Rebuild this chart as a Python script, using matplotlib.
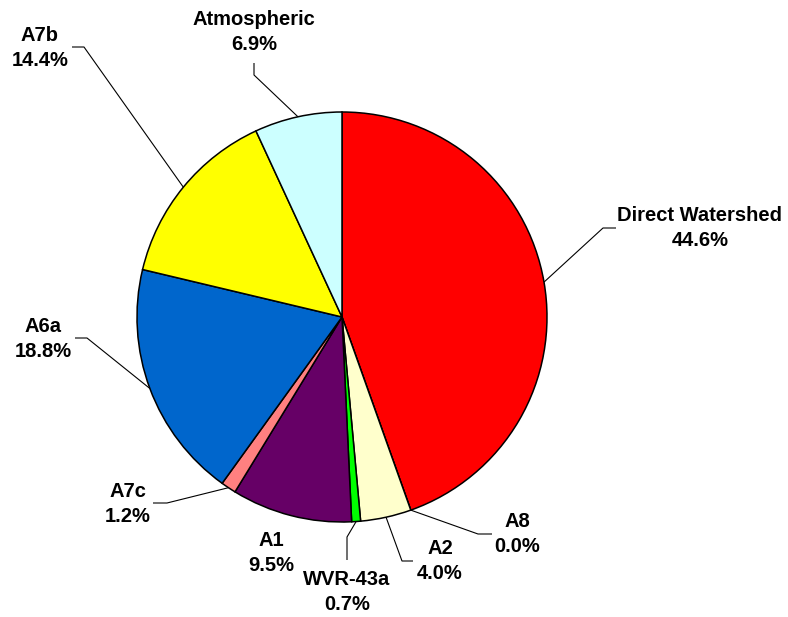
import numpy as np
import matplotlib.pyplot as plt

# load shares by source, clockwise from 12 o'clock
sources = ["Direct Watershed", "A8", "A2", "WVR-43a", "A1", "A7c", "A6a", "A7b", "Atmospheric"]
shares = [44.6, 0.0, 4.0, 0.7, 9.5, 1.2, 18.8, 14.4, 6.9]
colors = ["#FF0000", "#000080", "#FFFFCC", "#00FF00", "#660066",
          "#FF8080", "#0066CC", "#FFFF00", "#CCFFFF"]

W, H = 788, 617
fig = plt.figure(figsize=(W / 100, H / 100), dpi=100)
ax = fig.add_axes([0, 0, 1, 1])

cx, cy, r = 342, H - 317, 205
wedges, _ = ax.pie(shares, colors=colors, startangle=90, counterclock=False,
                   center=(cx, cy), radius=r, normalize=True,
                   wedgeprops=dict(edgecolor="black", linewidth=1.1))

# pie() resets the limits, so fix the canvas afterwards
ax.set_xlim(0, W)
ax.set_ylim(0, H)
ax.set_aspect("equal")
ax.axis("off")

# label placement: text centre, elbow of leader, end of short horizontal stub
layout = {
    "Direct Watershed": ((700, 228), (603, 228), (616, 228)),
    "A8": ((517, 534), (478, 534), (492, 534)),
    "A2": ((440, 561), (402, 561), (413, 561)),
    "WVR-43a": ((347, 592), (347, 537), (347, 560)),
    "A1": ((271, 553), None, None),
    "A7c": ((128, 504), (167, 503), (153, 503)),
    "A6a": ((43, 339), (87, 338), (75, 338)),
    "A7b": ((40, 48), (84, 47), (72, 47)),
    "Atmospheric": ((254, 32), (254, 75), (254, 63)),
}

for w, name, val in zip(wedges, sources, shares):
    mid = np.deg2rad((w.theta1 + w.theta2) / 2)
    ex, ey = cx + r * np.cos(mid), cy + r * np.sin(mid)
    (tx, ty), elbow, stub = layout[name]
    if elbow is not None:
        xs = [ex, elbow[0], stub[0]]
        ys = [ey, H - elbow[1], H - stub[1]]
        ax.plot(xs, ys, color="black", lw=0.8, solid_capstyle="butt")
    ax.text(tx, H - ty, f"{name}\n{val:.1f}%", ha="center", va="center",
            fontsize=14.5, fontweight="bold", family="Liberation Sans",
            linespacing=1.45)

fig.savefig("out.png", dpi=100)
